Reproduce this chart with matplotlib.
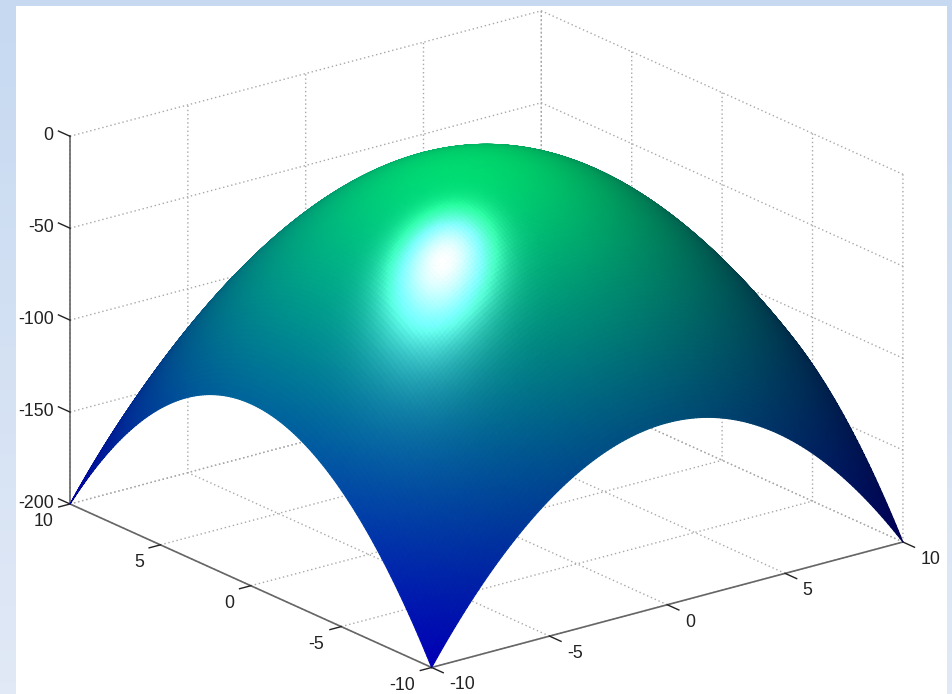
import numpy as np
import matplotlib
matplotlib.use('Agg')
import matplotlib.pyplot as plt

plt.rcParams['font.family'] = ['Liberation Sans', 'DejaVu Sans']
plt.rcParams['axes.unicode_minus'] = False

x_ticks = [-10, -5, 0, 5, 10]
y_ticks = [-10, -5, 0, 5, 10]
z_ticks = [-200, -150, -100, -50, 0]
# height of the surface along one half of its edge arch, read from -10 to 0
half_profile = [-100.00, -97.52, -95.06, -92.64, -90.25, -87.89, -85.56, -83.27, -81.00, -78.77,
                -76.56, -74.39, -72.25, -70.14, -68.06, -66.02, -64.00, -62.02, -60.06, -58.14,
                -56.25, -54.39, -52.56, -50.77, -49.00, -47.27, -45.56, -43.89, -42.25, -40.64,
                -39.06, -37.52, -36.00, -34.52, -33.06, -31.64, -30.25, -28.89, -27.56, -26.27,
                -25.00, -23.77, -22.56, -21.39, -20.25, -19.14, -18.06, -17.02, -16.00, -15.02,
                -14.06, -13.14, -12.25, -11.39, -10.56, -9.77, -9.00, -8.27, -7.56, -6.89,
                -6.25, -5.64, -5.06, -4.52, -4.00, -3.52, -3.06, -2.64, -2.25, -1.89,
                -1.56, -1.27, -1.00, -0.77, -0.56, -0.39, -0.25, -0.14, -0.06, -0.02, 0.00]
edge_profile = half_profile + half_profile[-2::-1]

W, H = 952, 694
fig = plt.figure(figsize=(W/100, H/100), dpi=100, facecolor='white')

bg = fig.add_axes([0, 0, 1, 1], zorder=-2)
bg.imshow(np.linspace(0, 1, 64)[:, None], extent=(0, W, H, 0), aspect='auto',
          cmap=matplotlib.colors.LinearSegmentedColormap.from_list('b', ['#c6d9f1', '#e1e9f6']))
bg.add_patch(plt.Rectangle((16, 6), 931, 690, fc='white', ec='none'))
bg.set_xlim(0, W); bg.set_ylim(H, 0); bg.axis('off')

ax = fig.add_axes([0.02553, -0.1546, 0.9454, 1.2968], projection='3d', proj_type='ortho')
ax.patch.set_alpha(0)
ax.view_init(elev=20.3, azim=-127.5)
ax.set_box_aspect((1, 1, 0.66))
ax.set_xlim(-10, 10, view_margin=0)
ax.set_ylim(-10, 10, view_margin=0)
ax.set_zlim(-200, 0, view_margin=0)
ax.set_xticks(x_ticks); ax.set_yticks(y_ticks); ax.set_zticks(z_ticks)
ax.tick_params(labelsize=12.8, colors='#222222')
ax.tick_params(axis='x', pad=8.5)
ax.tick_params(axis='y', pad=4)
ax.tick_params(axis='z', pad=-1.4)
plt.setp(ax.xaxis.get_ticklabels(), ha='left', va='bottom')
plt.setp(ax.yaxis.get_ticklabels(), ha='right', va='center')
plt.setp(ax.zaxis.get_ticklabels(), ha='right', va='center')

grid = np.linspace(-10, 10, len(edge_profile))
X, Y = np.meshgrid(grid, grid)
P = np.array(edge_profile, float) * 0.99 - 1   # crown sits a little below z = 0 in the picture
Z = P[None, :] + P[:, None]

# lighting in box space
dzdy, dzdx = np.gradient(Z, grid, grid)
s = 1.96 / 29.7
n = np.dstack([-dzdx*s, -dzdy*s, np.ones_like(Z)])
n /= np.linalg.norm(n, axis=2, keepdims=True)
L_spec = np.array([-0.173, 0.19, 0.965]); L_spec /= np.linalg.norm(L_spec)
L_diff = np.array([-0.40, -0.10, 0.91]); L_diff /= np.linalg.norm(L_diff)
el, az = np.radians(20.3), np.radians(-127.5)
V = np.array([np.cos(el)*np.cos(az), np.cos(el)*np.sin(az), np.sin(el)])
Hv = (L_spec+V)/np.linalg.norm(L_spec+V)
diff = np.clip(n @ L_diff, 0, 1)
spec = np.clip(n @ Hv, 0, 1)**70
base = matplotlib.colormaps['winter']((Z+200)/200)[..., :3]
rgb = base*(0.15+0.75*diff)[..., None] + 1.0*spec[..., None]
fc = np.dstack([np.clip(rgb, 0, 1), np.ones_like(Z)])
ax.plot_surface(X, Y, Z, facecolors=fc, rstride=1, cstride=1, shade=False, linewidth=0.8, antialiased=True)

for name, a in (('x', ax.xaxis), ('y', ax.yaxis), ('z', ax.zaxis)):
    a.set_pane_color((1, 1, 1, 0))
    a.pane.set_edgecolor((1, 1, 1, 0))
    a.line.set_color('#666666'); a.line.set_linewidth(1.2)
    a._axinfo['grid'].update(color='#a8a8a8', linewidth=1.0, linestyle=(0, (1, 2)))
ax.xaxis._axinfo['tick'].update(inward_factor=0.4, outward_factor=0.0, linewidth={True: 1.0, False: 0.5}, color='#666666')
ax.yaxis._axinfo['tick'].update(inward_factor=0.3, outward_factor=0.0, linewidth={True: 1.0, False: 0.5}, color='#666666')
ax.zaxis._axinfo['tick'].update(inward_factor=0.0, outward_factor=0.4, linewidth={True: 1.0, False: 0.5}, color='#666666')
ax.zaxis._get_tickdir = lambda position: 1

fig.savefig('out.png', dpi=100)
